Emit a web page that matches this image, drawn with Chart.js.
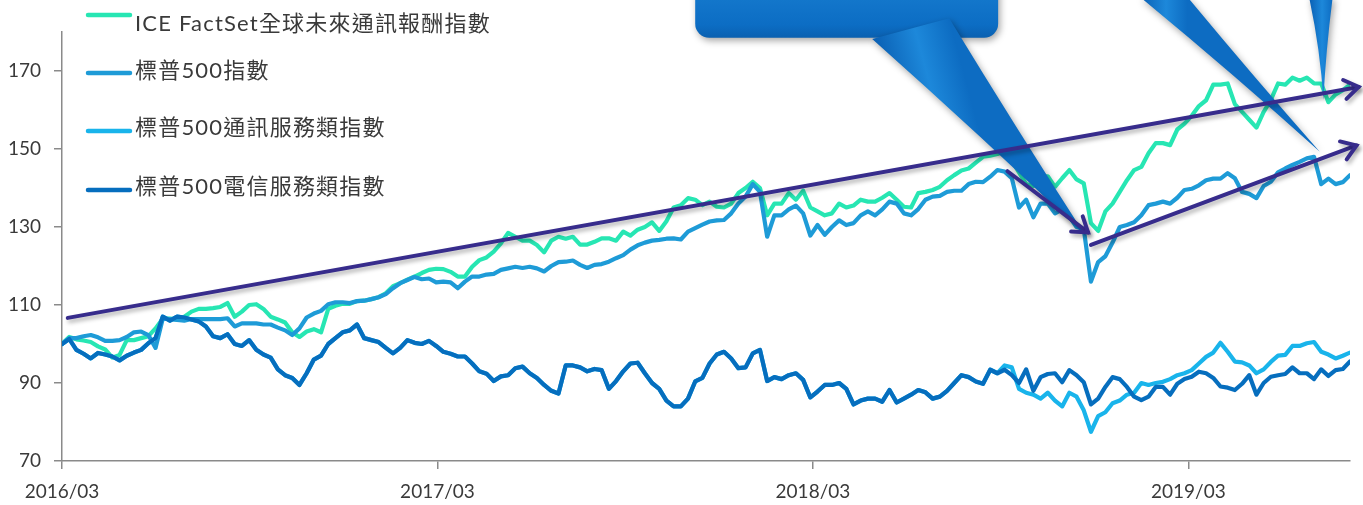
<!DOCTYPE html>
<html lang="zh-Hant">
<head>
<meta charset="utf-8">
<title>通訊類指數走勢</title>
<script src="https://cdn.jsdelivr.net/npm/chart.js@4.4.1/dist/chart.umd.min.js"></script>
<style>
  html, body { margin: 0; padding: 0; background: #ffffff; }
  .wrap { position: relative; width: 1363px; height: 505px; }
</style>
</head>
<body>
<div class="wrap"><canvas id="indexChart"></canvas></div>
<script>
// Weekly index values, rebased to 100 at 2016/03
const seriesNames = [
    'ICE FactSet全球未來通訊報酬指數',
    '標普500指數',
    '標普500通訊服務類指數',
    '標普500電信服務類指數'
];

const iceValues = [
    100, 101.8, 101.2, 100.9, 100.5, 99.4, 98.6, 96.5, 97.2, 101,
    101, 101.5, 102, 104, 106.5, 106.5, 106.3, 107, 108.3, 109,
    109, 109.2, 109.5, 110.5, 107, 108.3, 110, 110.2, 109, 107,
    106.3, 105.5, 103, 101.8, 103.2, 103.8, 103, 109, 109.8, 110.3,
    110.3, 111, 111.1, 111.5, 112, 113, 114.8, 115.6, 116.5, 117.3,
    118.2, 119, 119.3, 119.2, 118.5, 117.3, 117.3, 119.8, 121.5, 122.2,
    123.7, 125.8, 128.5, 127.5, 126.5, 126.5, 125.4, 123.5, 126.5, 127.5,
    127, 127.5, 125.5, 125.5, 126.2, 127.1, 127.1, 126.5, 128.8, 127.8,
    129.3, 130, 131.2, 129, 131.5, 135, 135.6, 137.4, 137, 135.6,
    136.5, 135.2, 135, 136, 138.7, 140, 141.6, 140, 133, 136,
    136, 138.7, 137, 139.3, 135, 134, 133, 133.5, 136, 135,
    135.5, 137, 136.5, 136.5, 137.5, 138.7, 137, 135.2, 135, 138.7,
    139, 139.5, 140.3, 142, 143.3, 144.5, 145, 146.5, 148, 148.3,
    148.7, 149.5, 147, 144, 141, 140.5, 143, 143, 140.3, 142.5,
    144.6, 142.2, 141.2, 131, 129, 134, 136, 139, 142, 144.6,
    145.4, 148.9, 151.5, 151.5, 151, 155, 156.5, 158.5, 161, 162.5,
    166.5, 166.5, 166.8, 161.5, 159.5, 157.5, 155.5, 159.5, 162.6, 166.8,
    166.5, 168.3, 167.5, 168.3, 166.8, 166.8, 162, 164, 165.1, 166.5
];

const sp500Values = [
    100, 101.5, 101.5, 102, 102.3, 101.7, 100.8, 100.8, 101, 101.8,
    103, 103.2, 102.3, 99, 106.5, 106.4, 106.2, 106, 106.4, 106.4,
    106.4, 106.4, 106.4, 106.6, 104.5, 105.3, 105.3, 105.3, 105, 105,
    104.2, 103.5, 102.3, 104, 106.8, 107.8, 108.5, 110.2, 110.7, 110.7,
    110.5, 111, 111.1, 111.5, 112, 112.8, 114.3, 115.6, 116.4, 117.2,
    116.6, 116.8, 115.8, 116, 115.8, 114.3, 116, 117.3, 117.3, 117.8,
    118, 119, 119.4, 119.8, 119.5, 119.8, 119.4, 118.6, 120, 121,
    121.1, 121.4, 120.3, 119.5, 120.3, 120.5, 121.1, 122, 122.8, 124.2,
    125.3, 126, 126.5, 126.7, 127, 127.1, 126.8, 128.8, 129.7, 130.6,
    131.4, 131.7, 131.8, 133.5, 136, 137.8, 141, 139, 127.5, 133,
    133, 134.5, 135.5, 133.5, 127.8, 130.5, 128, 130, 131.7, 130.5,
    131, 133, 134, 133, 134.5, 136.5, 136, 133.5, 133, 134.6,
    137, 137.8, 138, 139, 139.3, 139.3, 141, 141.6, 141.5, 142.9,
    144.6, 144.2, 142.5, 135, 137, 132.5, 136, 136, 133.5, 134.5,
    132.7, 130, 129.5, 116, 121, 122.5, 126, 130, 130.5, 131.2,
    133, 135.6, 136, 136.5, 136, 137.5, 139.5, 139.8, 140.7, 142,
    142.4, 142.4, 143.8, 142.5, 139, 138.5, 137.4, 140.5, 141.6, 144,
    145, 145.9, 146.7, 147.6, 148, 141, 142.4, 141, 141.5, 143.3
];

// Communication services index: it runs under the telecom line until late 2018
const commValues = [
    100, 101.3, 98.5, 97.5, 96.3, 97.7, 97.3, 96.8, 95.8, 97,
    97.8, 98.5, 100.2, 101.5, 107, 106, 107, 106.8, 106.3, 105.8,
    104.5, 102, 101.5, 102.5, 100, 99.5, 101, 98.5, 97.3, 96.5,
    93.5, 92, 91.3, 89.5, 92.5, 96, 97, 100, 101.5, 103,
    103.5, 105, 101.5, 101, 100.5, 99, 97.6, 99, 101, 100.3,
    100, 100.8, 99.5, 98, 97.5, 96.8, 96.8, 95, 93, 92.4,
    90.5, 91.7, 92, 93.8, 94.2, 92.5, 91.3, 89.5, 88, 87.3,
    94.5, 94.5, 94, 93, 93.6, 93.3, 88.5, 90.5, 93, 95,
    95.2, 92.5, 90, 88.5, 85.5, 84, 84, 86, 90.4, 91.3,
    95, 97.3, 98, 96.3, 93.8, 94, 97.6, 98.5, 90.5, 91.5,
    91, 92, 92.5, 90.8, 86.3, 87.8, 89.5, 89.5, 90, 88.5,
    84.5, 85.5, 86, 86, 85.2, 88.2, 85, 86, 87, 88.2,
    87.6, 86, 86.5, 88, 90, 92, 91.5, 90.4, 89.8, 93.4,
    92.5, 94.5, 94, 88.5, 87.5, 87, 86, 87.5, 85.5, 84,
    87.5, 86.5, 83, 77.5, 81.5, 82.5, 84.8, 85.5, 87, 87.5,
    90, 89.5, 90, 90.3, 91, 92, 92.5, 93.3, 95, 96.7,
    97.8, 100.3, 98, 95.5, 95.3, 94.5, 92.5, 93.5, 95.4, 97,
    97.2, 99.5, 99.5, 100.2, 100.5, 98, 97.3, 96.3, 97, 97.8
];

const telecomValues = [
    100, 101.3, 98.5, 97.5, 96.3, 97.7, 97.3, 96.8, 95.8, 97,
    97.8, 98.5, 100.2, 101.5, 107, 106, 107, 106.8, 106.3, 105.8,
    104.5, 102, 101.5, 102.5, 100, 99.5, 101, 98.5, 97.3, 96.5,
    93.5, 92, 91.3, 89.5, 92.5, 96, 97, 100, 101.5, 103,
    103.5, 105, 101.5, 101, 100.5, 99, 97.6, 99, 101, 100.3,
    100, 100.8, 99.5, 98, 97.5, 96.8, 96.8, 95, 93, 92.4,
    90.5, 91.7, 92, 93.8, 94.2, 92.5, 91.3, 89.5, 88, 87.3,
    94.5, 94.5, 94, 93, 93.6, 93.3, 88.5, 90.5, 93, 95,
    95.2, 92.5, 90, 88.5, 85.5, 84, 84, 86, 90.4, 91.3,
    95, 97.3, 98, 96.3, 93.8, 94, 97.6, 98.5, 90.5, 91.5,
    91, 92, 92.5, 90.8, 86.3, 87.8, 89.5, 89.5, 90, 88.5,
    84.5, 85.5, 86, 86, 85.2, 88.2, 85, 86, 87, 88.2,
    87.6, 86, 86.5, 88, 90, 92, 91.5, 90.4, 89.8, 93.4,
    92.5, 93.4, 92, 90, 93.5, 88, 91.5, 92.3, 92.5, 90.2,
    93.3, 92, 90.2, 84.5, 86, 89, 91.5, 91, 89, 86.5,
    85.6, 86.5, 89, 89, 87, 89.8, 91, 91.6, 92.9, 92.5,
    91.3, 89.1, 88.8, 88.2, 89.8, 92, 87, 90, 91.6, 92,
    92.3, 94, 92.5, 92.5, 91, 93.5, 91.8, 93.3, 93.6, 95.5
];

// Week numbers since 2016/03, one per value
const weeks = iceValues.map((_, i) => i);

const tickLabels = ['2016/03', '2017/03', '2018/03', '2019/03'];
const tickMonths = [0, 12, 24, 36];
const yTicks = [70, 90, 110, 130, 150, 170];

const WEEKS_PER_MONTH = 52.18 / 12;
const FONT = "Lato, 'Noto Sans CJK TC', sans-serif";
const AXIS_GREY = '#8a8a8a';
const TEXT_GREY = '#3a3a3a';
const lineColors = ['#27e6b3', '#1e9bd7', '#19b4eb', '#066ebe'];

// Annotations in data units: [week, index level]
const trendArrows = [
    { from: [0.8, 106.7], to: [180.2, 165.9] },
    { from: [131.4, 144.3], to: [142.6, 128.6] },
    { from: [143.0, 125.4], to: [179.9, 150.9] }
];
const calloutBox = { left: 88.0, right: 130.1, bottom: 178.5, top: 195 };
const calloutTails = [
    [[112.6, 178.2], [123.3, 183.5], [142.3, 127.6]],
    [[149.8, 189], [156.4, 189], [174.8, 149.3]],
    [[173.3, 189], [176.6, 189], [175.3, 162.6]]
];

/**
 * Blue speech-bubble shapes whose text sits above the picture
 */
const calloutPlugin = {
    id: 'callouts',
    afterDatasetsDraw(chart) {
        const { ctx, scales: { x, y } } = chart;
        const px = p => [x.getPixelForValue(p[0]), y.getPixelForValue(p[1])];

        ctx.save();
        ctx.shadowColor = 'rgba(0, 0, 0, 0.35)';
        ctx.shadowBlur = 7;
        ctx.shadowOffsetX = 2;
        ctx.shadowOffsetY = 3;

        // box
        const l = x.getPixelForValue(calloutBox.left);
        const r = x.getPixelForValue(calloutBox.right);
        const t = y.getPixelForValue(calloutBox.top);
        const b = y.getPixelForValue(calloutBox.bottom);
        const boxGrad = ctx.createLinearGradient(0, t, 0, b);
        boxGrad.addColorStop(0, '#1a80d2');
        boxGrad.addColorStop(0.8, '#0c6dc4');
        boxGrad.addColorStop(1, '#0a60b0');
        ctx.fillStyle = boxGrad;
        ctx.beginPath();
        ctx.roundRect(l, t, r - l, b - t, 14);
        ctx.fill();

        // tails
        calloutTails.forEach(tail => {
            const [a, c, tip] = tail.map(px);
            const g = ctx.createLinearGradient(a[0], a[1], c[0], c[1]);
            g.addColorStop(0, '#0a5fb3');
            g.addColorStop(0.55, '#1d88da');
            g.addColorStop(1, '#0d6cc2');
            ctx.fillStyle = g;
            ctx.beginPath();
            ctx.moveTo(a[0], a[1]);
            ctx.quadraticCurveTo((a[0] + tip[0]) / 2 + 4, (a[1] + tip[1]) / 2, tip[0], tip[1]);
            ctx.quadraticCurveTo((c[0] + tip[0]) / 2 - 2, (c[1] + tip[1]) / 2, c[0], c[1]);
            ctx.closePath();
            ctx.fill();
        });
        ctx.restore();
    }
};

/**
 * Purple trend arrows drawn over the lines
 */
const arrowPlugin = {
    id: 'trendArrows',
    afterDraw(chart) {
        const { ctx, scales: { x, y } } = chart;
        const px = p => [x.getPixelForValue(p[0]), y.getPixelForValue(p[1])];

        ctx.save();
        ctx.strokeStyle = '#372c8c';
        ctx.lineWidth = 4;
        ctx.lineCap = 'round';
        ctx.lineJoin = 'miter';
        ctx.shadowColor = 'rgba(0, 0, 0, 0.3)';
        ctx.shadowBlur = 4;
        ctx.shadowOffsetX = 2;
        ctx.shadowOffsetY = 3;

        trendArrows.forEach(arrow => {
            const from = px(arrow.from);
            const to = px(arrow.to);
            const ang = Math.atan2(to[1] - from[1], to[0] - from[0]);
            const len = 17;
            const spread = 0.6;

            ctx.beginPath();
            ctx.moveTo(from[0], from[1]);
            ctx.lineTo(to[0], to[1]);
            ctx.stroke();

            ctx.beginPath();
            ctx.moveTo(to[0] - len * Math.cos(ang - spread), to[1] - len * Math.sin(ang - spread));
            ctx.lineTo(to[0], to[1]);
            ctx.lineTo(to[0] - len * Math.cos(ang + spread), to[1] - len * Math.sin(ang + spread));
            ctx.stroke();
        });
        ctx.restore();
    }
};

/**
 * Legend stacked in the top-left corner of the plot
 */
const legendRows = [
    { lineY: 15, textY: 24 },
    { lineY: 73, textY: 71 },
    { lineY: 131, textY: 128 },
    { lineY: 190, textY: 187 }
];

const legendPlugin = {
    id: 'cornerLegend',
    afterDraw(chart) {
        const ctx = chart.ctx;
        ctx.save();
        ctx.font = `22px ${FONT}`;
        ctx.letterSpacing = '1.2px';
        ctx.textBaseline = 'middle';
        ctx.lineWidth = 4.5;
        ctx.lineCap = 'round';

        seriesNames.forEach((name, i) => {
            const row = legendRows[i];
            ctx.strokeStyle = lineColors[i];
            ctx.beginPath();
            ctx.moveTo(88, row.lineY);
            ctx.lineTo(130, row.lineY);
            ctx.stroke();

            ctx.fillStyle = TEXT_GREY;
            ctx.fillText(name, 135, row.textY);
        });
        ctx.restore();
    }
};

document.addEventListener('DOMContentLoaded', () => {
    const ctx = document.getElementById('indexChart').getContext('2d');
    const valueSets = [iceValues, sp500Values, commValues, telecomValues];
    // lower order is painted on top
    const drawOrder = [3, 2, 1, 0];

    new Chart(ctx, {
        type: 'line',
        data: {
            labels: weeks,
            datasets: seriesNames.map((name, i) => ({
                label: name,
                data: valueSets[i],
                borderColor: lineColors[i],
                backgroundColor: lineColors[i],
                order: drawOrder[i]
            }))
        },
        options: {
            responsive: true,
            maintainAspectRatio: false,
            animation: false,
            layout: { padding: { top: 32, right: 13, left: 0, bottom: 0 } },
            elements: {
                point: { radius: 0, hoverRadius: 0 },
                line: { borderWidth: 4.2, tension: 0, borderJoinStyle: 'round', borderCapStyle: 'round' }
            },
            plugins: {
                legend: { display: false },
                tooltip: { enabled: false }
            },
            scales: {
                x: {
                    type: 'linear',
                    min: 0,
                    max: weeks.length - 1,
                    afterBuildTicks: axis => {
                        axis.ticks = tickMonths.map(m => ({ value: m * WEEKS_PER_MONTH }));
                    },
                    afterFit: axis => { axis.height = 44; },
                    grid: { display: true, drawOnChartArea: false, drawTicks: true, tickLength: 8, color: AXIS_GREY, lineWidth: 1.5 },
                    border: { display: true, color: AXIS_GREY, width: 1.5 },
                    ticks: {
                        autoSkip: false,
                        maxRotation: 0,
                        padding: 11,
                        color: TEXT_GREY,
                        font: { size: 19, family: FONT },
                        callback: (value, index) => tickLabels[index]
                    }
                },
                y: {
                    min: 70,
                    max: 180,
                    afterBuildTicks: axis => {
                        axis.ticks = yTicks.map(v => ({ value: v }));
                    },
                    afterFit: axis => { axis.width = 62; },
                    grid: { display: true, drawOnChartArea: false, drawTicks: true, tickLength: 8, color: AXIS_GREY, lineWidth: 1.5 },
                    border: { display: true, color: AXIS_GREY, width: 1.5 },
                    ticks: {
                        padding: 13,
                        color: TEXT_GREY,
                        font: { size: 19, family: FONT }
                    }
                }
            }
        },
        plugins: [calloutPlugin, arrowPlugin, legendPlugin]
    });
});
</script>
</body>
</html>
